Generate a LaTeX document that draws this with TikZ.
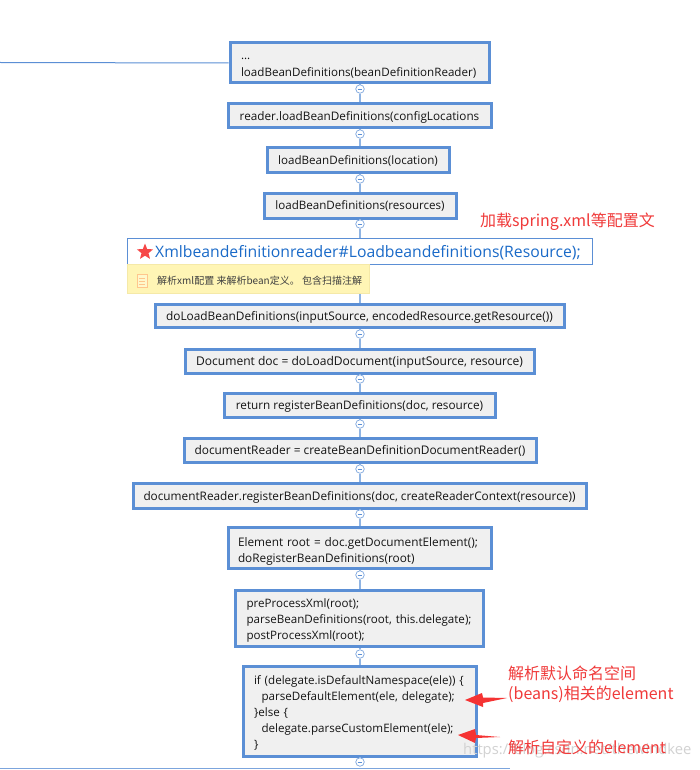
\documentclass[tikz,border=0pt]{standalone}
\usepackage{fontspec}
\setmainfont{Open Sans}
\newfontfamily\cjk{Noto Sans CJK SC}
\usetikzlibrary{shapes.geometric}
\definecolor{edgeblue}{HTML}{5B8FD5}
\definecolor{linkblue}{HTML}{8FB4E3}
\definecolor{boxgrey}{HTML}{F0F0F0}
\definecolor{titleblue}{HTML}{1A6AC8}
\definecolor{notefill}{HTML}{FFF5B5}
\definecolor{noteedge}{HTML}{F5E9A8}
\definecolor{redtext}{HTML}{F03A3A}
\definecolor{arrowred}{HTML}{F53333}
\tikzset{
  x=1pt,y=-1pt,
  basebox/.style={draw=edgeblue,line width=3pt,fill=boxgrey,inner sep=0pt,text=black!92,align=left},
  flowbox/.style={basebox,text depth=0pt,font=\fontsize{#1}{16.2}\selectfont},
  flowbox/.default=11.6,
  leftbox/.style={basebox,inner xsep=10pt,text width=#1-20pt,minimum width=#1,text height=0pt,font=\fontsize{11.6}{16.2}\selectfont},
  toggle/.style={circle,draw=edgeblue!80,line width=.7pt,fill=white,minimum size=8.5pt,inner sep=0pt,
    path picture={\draw[edgeblue,line width=.7pt] ([xshift=-2.4pt]path picture bounding box.center) -- ([xshift=2.4pt]path picture bounding box.center);}},
  link/.style={draw=linkblue,line width=1.1pt},
  redlabel/.style={text=redtext,inner sep=0pt,anchor=west,font=\cjk\fontsize{16}{19}\selectfont},
  redarrow/.style={fill=arrowred,draw=none},
}
\begin{document}
\begin{tikzpicture}
\useasboundingbox (0,0) rectangle (699,770);
\fill[white] (0,0) rectangle (699,770);
% free ends
\coordinate (leftend) at (0,62.5);
\coordinate (botL) at (0,768);
\coordinate (botR) at (510,768);
% toggles
\foreach \n/\y in {t1/89,t2/134,t3/179,t4/224,t5/270,t6/334,t7/379,t8/424,t9/469,t10/514,t11/575,t12/654,t13/762}
  \node[toggle] (\n) at (360,\y) {};
% boxes
\node[leftbox=259pt,text depth=6pt,minimum height=40pt] (b1) at (359.5,63) {\hspace*{1pt}...\\\hspace*{1pt}loadBeanDefinitions(beanDefinitionReader)};
\node[flowbox=11.75,minimum width=263pt,minimum height=24pt] (b2) at (359.5,116) {reader.loadBeanDefinitions(configLocations};
\node[flowbox,minimum width=182pt,minimum height=25pt] (b3) at (358,160.5) {loadBeanDefinitions(location)};
\node[flowbox,minimum width=192pt,minimum height=25pt] (b4) at (360,205.5) {loadBeanDefinitions(resources)};
\node[draw=edgeblue,line width=1pt,fill=white,minimum width=465pt,minimum height=26pt,inner sep=0pt] (x) at (359.5,251) {};
\node[text=titleblue,inner sep=0pt,anchor=west,font=\fontsize{15.75}{18}\selectfont] (xt) at (155,252.5) {Xmlbeandefinitionreader\#Loadbeandefinitions(Resource);};
\node[star,star points=5,star point ratio=2.3,fill=arrowred!90,minimum size=17pt,inner sep=0pt] (xs) at (145,252) {};
\node[draw=noteedge,line width=.8pt,fill=notefill,minimum width=242pt,minimum height=29pt,inner sep=0pt] (n) at (248,279) {};
\node[text=black!75,inner sep=0pt,anchor=west,font=\cjk\fontsize{10}{11}\selectfont] (nt) at (157,281) {解析xml配置 来解析bean定义。 包含扫描注解};
\node[flowbox=11.85,minimum width=409pt,minimum height=23pt] (b5) at (359.5,315.5) {doLoadBeanDefinitions(inputSource, encodedResource.getResource())};
\node[flowbox=12.05,minimum width=349pt,minimum height=24pt] (b6) at (359.5,361) {Document doc = doLoadDocument(inputSource, resource)};
\node[flowbox=11.75,minimum width=271pt,minimum height=24pt] (b7) at (359.5,405) {return registerBeanDefinitions(doc, resource)};
\node[flowbox=11.9,minimum width=352pt,minimum height=24pt] (b8) at (360,450) {documentReader = createBeanDefinitionDocumentReader()};
\node[flowbox=11.8,minimum width=453pt,minimum height=25pt] (b9) at (359.5,495.5) {documentReader.registerBeanDefinitions(doc, createReaderContext(resource))};
\node[leftbox=263pt,text depth=4pt,minimum height=41pt,font=\fontsize{11.8}{16.2}\selectfont] (b10) at (359.5,548) {Element root = doc.getDocumentElement();\\doRegisterBeanDefinitions(root)};
\node[leftbox=248pt,text depth=22pt,minimum height=56pt] (b11) at (359.5,618) {\hspace*{1pt}preProcessXml(root);\\\hspace*{1pt}parseBeanDefinitions(root, this.delegate);\\\hspace*{1pt}postProcessXml(root);};
\node[leftbox=233pt,text depth=55pt,minimum height=90pt] (b12) at (359.5,711.5) {\hspace*{1pt}if (delegate.isDefaultNamespace(ele)) \{\\\hspace*{8.5pt}parseDefaultElement(ele, delegate);\\\hspace*{1pt}\}else \{\\\hspace*{8.5pt}delegate.parseCustomElement(ele);\\\hspace*{1pt}\}};
% connectors
\draw[edgeblue,line width=1pt] (leftend) -- (b1.west);
\draw[edgeblue!80,line width=1pt] (botL) -- (botR);
\foreach \a/\t/\c in {b1/t1/b2,b2/t2/b3,b3/t3/b4,b4/t4/x,b5/t6/b6,b6/t7/b7,b7/t8/b8,b8/t9/b9,b9/t10/b10,b10/t11/b11,b11/t12/b12}{
  \path[link] (\a.south -| \t) -- (\t.north);
  \path[link] (\t.south) -- (\c.north -| \t);
}
\path[link] (n.south -| t5) -- (b5.north -| t5);
\path[link] (b12.south -| t13) -- (t13.north);
% note icon
\node[draw=orange!45,line width=.8pt,fill=notefill!70,minimum width=10pt,minimum height=13pt,inner sep=0pt] (icon) at (142,280.5) {};
\foreach \yy in {278,281,284} \draw[orange!45,line width=.7pt] (139,\yy) -- (145,\yy);
% watermark
\node[text=gray!35,inner sep=0pt,anchor=west,font=\fontsize{14.8}{17}\selectfont] (wm) at (463,751) {https://blog.csdn.net/thewindkee};
% red labels
\node[redlabel] (r1) at (480,222) {加载spring.xml等配置文};
\node[redlabel] (r2) at (508,673) {解析默认命名空间};
\node[redlabel] (r3) at (508,694.5) {(beans)相关的element};
\node[redlabel] (r4) at (508,747) {解析自定义的element};
% red arrows
\fill[redarrow] (465,700) -- (482,693) -- (483,697.5) -- (507,698) -- (483,703) -- (483,707) -- cycle;
\fill[redarrow] (458,735) -- (475,729) -- (476,735) -- (500,737) -- (476,738) -- (475,743) -- cycle;
\end{tikzpicture}
\end{document}
